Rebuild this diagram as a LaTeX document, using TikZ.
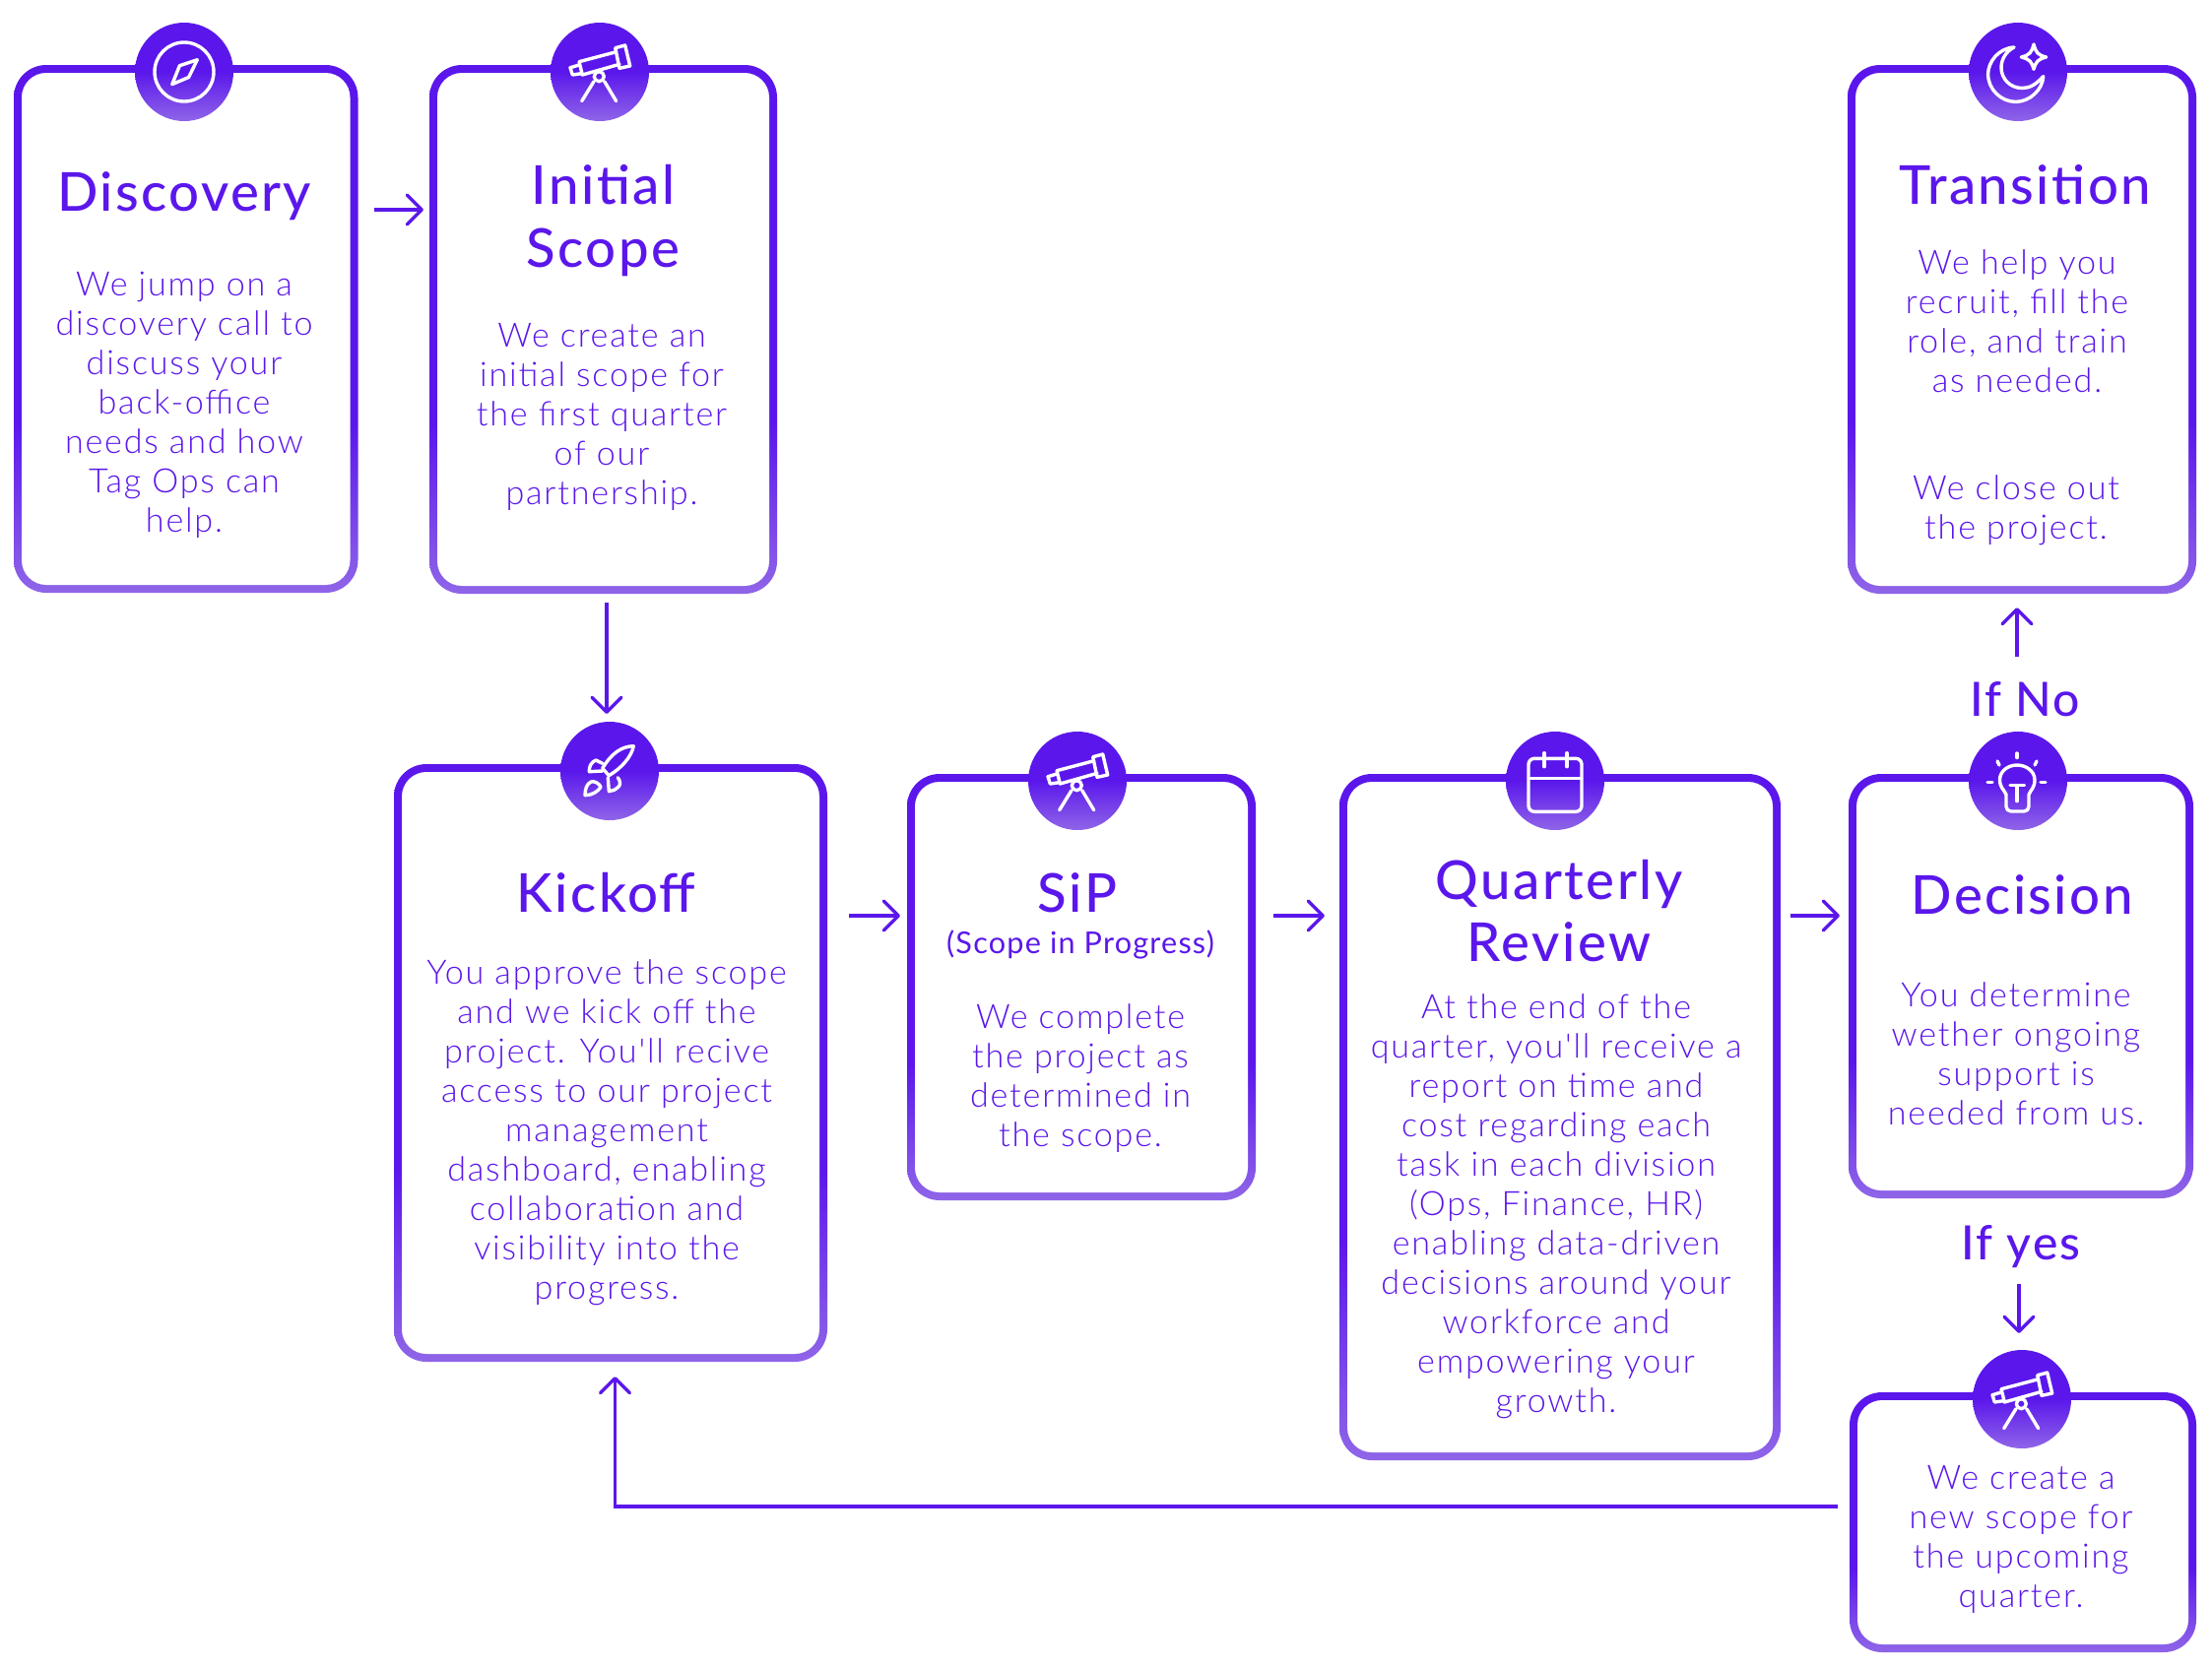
\documentclass[tikz,border=0pt]{standalone}
\usepackage{fontspec}
\usetikzlibrary{arrows.meta,calc}
\newfontfamily\titlef[LetterSpace=4.5]{Lato Medium}
\newfontfamily\bodyf[LetterSpace=5.3]{Lato Light}
\newfontfamily\subf[LetterSpace=4]{Lato}
\definecolor{vio}{HTML}{5B17EB}
\definecolor{violo}{HTML}{8F65E8}
\pgfdeclareverticalshading{cardgrad}{100bp}{color(0bp)=(violo); color(25bp)=(violo); color(41bp)=(vio); color(100bp)=(vio)}
\pgfdeclareverticalshading{discgrad}{100bp}{color(0bp)=(violo); color(25bp)=(violo); color(50bp)=(vio); color(100bp)=(vio)}
\tikzset{
 x=1pt,y=-1pt,
 cardouter/.style={rectangle,inner sep=0pt,outer sep=0pt,rounded corners=33pt,shade,shading=cardgrad},
 cardinner/.style={rectangle,inner sep=0pt,outer sep=0pt,rounded corners=25pt,fill=white},
 badge/.style={circle,inner sep=0pt,outer sep=0pt,minimum size=100pt,shade,shading=discgrad},
 bodytxt/.style={anchor=north,inner sep=0pt,align=center,text=vio,font=\bodyf\fontsize{34.1}{40}\selectfont},
 titletxt/.style={anchor=north,inner sep=0pt,align=center,text=vio,font=\titlef\fontsize{54.5}{63.5}\selectfont},
 subtxt/.style={anchor=base,inner sep=0pt,text=vio,font=\subf\fontsize{30.6}{35}\selectfont},
 branchtxt/.style={anchor=base,inner sep=0pt,text=vio,font=\titlef\fontsize{48}{56}\selectfont},
 flow/.style={draw=vio,line width=3.6pt,-{Straight Barb[length=15pt,width=30pt,line width=3.4pt,round]}},
 ico/.style={draw=white,line width=3.4pt,line cap=round,line join=round},
}
\newcommand\card[7]{%
 \pgfmathsetmacro\cw{#4-#2}\pgfmathsetmacro\ch{#5-#3}%
 \node[cardouter,minimum width=\cw pt,minimum height=\ch pt] (#1) at ({(#2+#4)/2},{(#3+#5)/2}) {};
 \node[cardinner,minimum width=\cw pt-16pt,minimum height=\ch pt-16pt] (#1-in) at (#1.center) {};
 \node[badge] (#1-c) at (#6,#7) {};
}
\newcommand\bodyat[4]{\node[bodytxt] (#1) at (#2,{#3-27.5}) {\strut #4};}
\newcommand\titleat[4]{\node[titletxt] (#1) at (#2,{#3-44.45}) {\strut #4};}
\newcommand\telescope[1]{\begin{scope}[shift={(#1.center)},ico]
 \draw (15.7,-24.3) -- (25.7,-27) -- (30.7,-6) -- (20,-3.7) -- cycle;
 \draw (16.7,-20.3) -- (-21,-10.3) -- (-17.7,3) -- (20,-7.7);
 \draw (-21,-7) -- (-30,-4.3) -- (-27.7,3) -- (-18.7,1.7);
 \draw (-0.7,4.7) circle[radius=5];
 \draw (-6,9.7) -- (-18.3,29.7);
 \draw (4.7,9.7) -- (16.7,29.7);
\end{scope}}
\begin{document}
\begin{tikzpicture}
\useasboundingbox (0,0) rectangle (2246,1692);
\fill[white] (0,0) rectangle (2246,1692);
% cards
\card{disc}{14}{66}{363.5}{602}{187}{73}
\card{init}{436}{66}{789}{603}{609}{73}
\card{trans}{1876}{66}{2230}{603}{2049}{73}
\card{kick}{400}{776}{840}{1383}{619}{783}
\card{sip}{921}{786}{1275}{1219}{1094}{793}
\card{quart}{1360}{786}{1808}{1483}{1579}{793}
\card{deci}{1877}{786}{2227}{1217}{2049}{793}
\card{scope}{1878}{1414}{2230}{1678}{2053}{1421}
% titles
\titleat{t1}{187}{214.5}{Discovery}
\titleat{t2}{612.5}{207.5}{Initial\\Scope}
\titleat{t3}{2056}{207.5}{Transition}
\titleat{t4}{615.5}{926}{Kickoff}
\titleat{t5}{1094}{926}{SiP}
\titleat{t6}{1583}{913}{Quarterly\\Review}
\titleat{t7}{2053}{928}{Decision}
% bodies
\bodyat{b1}{187}{300}{We jump on a\\discovery call to\\discuss your\\back-office\\needs and how\\Tag Ops can\\help.}
\bodyat{b2}{611}{352}{We create an\\initial scope for\\the first quarter\\of our\\partnership.}
\bodyat{b3}{2048}{278}{We help you\\recruit, fill the\\role, and train\\as needed.}
\bodyat{b3b}{2047}{507}{We close out\\the project.}
\bodyat{b4}{616}{999}{You approve the scope\\and we kick off the\\project. You'll recive\\access to our project\\management\\dashboard, enabling\\collaboration and\\visibility into the\\progress.}
\node[subtxt] (sub) at (1097,968) {(Scope in Progress)};
\bodyat{b5}{1097}{1043.5}{We complete\\the project as\\determined in\\the scope.}
\bodyat{b6}{1580}{1033.5}{At the end of the\\quarter, you'll receive a\\report on time and\\cost regarding each\\task in each division\\(Ops, Finance, HR)\\enabling data-driven\\decisions around your\\workforce and\\empowering your\\growth.}
\bodyat{b7}{2047}{1021.5}{You determine\\wether ongoing\\support is\\needed from us.}
\bodyat{b8}{2052}{1512}{We create a\\new scope for\\the upcoming\\quarter.}
% labels
\node[branchtxt] (ifno) at (2056,727) {If No};
\node[branchtxt] (ifyes) at (2052,1279) {If yes};
% connectors
\coordinate (y1) at (0,213);
\coordinate (y2) at (0,930);
\coordinate (ynoStart) at (2048,667);
\coordinate (yesStart) at (2050,1304);
\coordinate (downx) at (616,0);
\coordinate (retS) at (0,1530);
\coordinate (retx) at (624.5,0);
\draw[flow,shorten <=16pt,shorten >=6pt] (disc.east |- y1) -- (init.west |- y1);
\draw[flow,shorten <=9pt,shorten >=8pt] (init.south -| downx) -- (kick-c.north -| downx);
\draw[flow,shorten <=22pt,shorten >=7pt] (kick.east |- y2) -- (sip.west |- y2);
\draw[flow,shorten <=18pt,shorten >=15pt] (sip.east |- y2) -- (quart.west |- y2);
\draw[flow,shorten <=10pt,shorten >=9pt] (quart.east |- y2) -- (deci.west |- y2);
\draw[flow,shorten >=14pt] (ynoStart) -- (trans.south -| ynoStart);
\draw[flow,shorten >=17pt] (yesStart) -- (scope-c.north -| yesStart);
\draw[flow,shorten <=12pt,shorten >=15pt] (scope.west |- retS) -- (retx |- retS) -- (retx |- kick.south);
% icons
\begin{scope}[shift={(disc-c.center)},ico]
 \draw (0,0) circle[radius=30];
 \draw (13.3,-12.3) -- (4.6,5.5) -- (-12.2,12.6) -- (-4.6,-6.3) -- cycle;
\end{scope}
\telescope{init-c}
\telescope{sip-c}
\telescope{scope-c}
\begin{scope}[shift={(trans-c.center)},ico]
 \draw (-4,-25) .. controls (-20,-24) and (-30.4,-10) .. (-30.4,2.3) .. controls (-30.4,18) and (-17,30.4) .. (-2.3,30.4) .. controls (12,30.4) and (25,18) .. (25.7,4.6) .. controls (18,13) and (12,16.5) .. (4.3,16.5) .. controls (-8,16.5) and (-17,7) .. (-17,-4.3) .. controls (-17,-13) and (-12,-21) .. (-4,-25) -- cycle;
 \draw (16,-28) .. controls (18,-20) and (20,-17) .. (28.7,-15) .. controls (20,-13) and (18,-10) .. (16,-2.7) .. controls (14,-10) and (12,-13) .. (3.3,-15) .. controls (12,-17) and (14,-20) .. (16,-28) -- cycle;
\end{scope}
\begin{scope}[shift={(kick-c.center)},ico]
 \draw (24.3,-25.3) .. controls (12,-25) and (2,-18) .. (-7.3,-2.7) -- (-0.7,4.7) .. controls (12,-3) and (22,-14) .. (24.3,-25.3) -- cycle;
 \draw (-7.3,-7.7) -- (-14,-11) .. controls (-19,-9) and (-21,-4) .. (-20.7,0.7) -- (-7.3,0);
 \draw (8.3,6.7) .. controls (11,10) and (11,14) .. (9.3,15.7) .. controls (6,19) and (3,20.7) .. (-0.7,20.7) -- (-1.7,6.7);
 \draw (-25,24.7) .. controls (-25,18) and (-23,13) .. (-19,11) .. controls (-16,9.5) and (-10,13) .. (-9,16.3) .. controls (-12,21) and (-18,24.7) .. (-25,24.7) -- cycle;
\end{scope}
\begin{scope}[shift={(quart-c.center)},ico]
 \draw[rounded corners=6pt] (-27,-22.7) rectangle (27,31.3);
 \draw[line width=2.6pt] (-27,-2.7) -- (27,-2.7);
 \draw (-11,-28.3) -- (-11,-14.3);
 \draw (12,-28.3) -- (12,-14.3);
\end{scope}
\begin{scope}[shift={(deci-c.center)},ico]
 \draw (-12,14) .. controls (-14,9) and (-18.5,7) .. (-18.5,-1) .. controls (-18.5,-10) and (-10,-16) .. (-1,-16) .. controls (8,-16) and (17,-10) .. (17,-1) .. controls (17,7) and (13,9) .. (11,14) -- (11,26) .. controls (11,29) and (9,31) .. (6,31) -- (-7,31) .. controls (-10,31) and (-12,29) .. (-12,26) -- cycle;
 \draw (-8,4.7) -- (6.5,4.7);
 \draw (-1,4.7) -- (-1,20.7);
 \draw (-1,-28) -- (-1,-23.5);
 \draw (-21,-20) -- (-19,-16);
 \draw (19,-20) -- (17,-16);
 \draw (-31,1.3) -- (-26,1.3);
 \draw (23,1.3) -- (28,1.3);
\end{scope}
\end{tikzpicture}
\end{document}
